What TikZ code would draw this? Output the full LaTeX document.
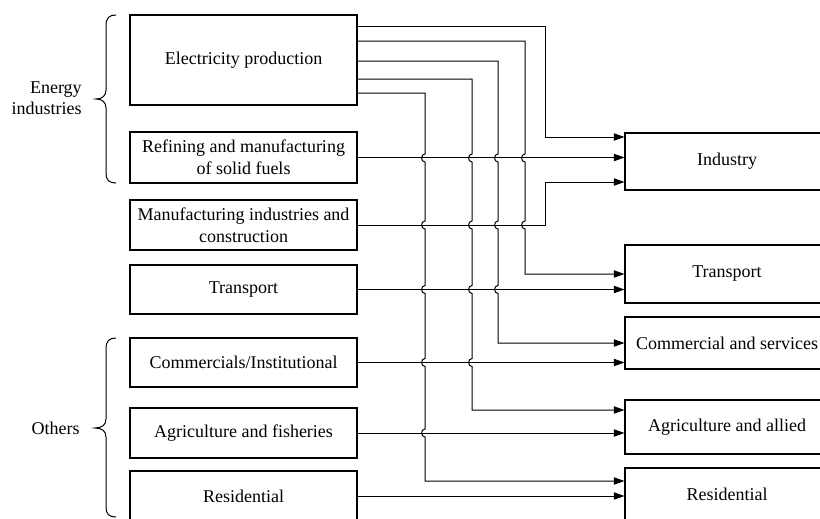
\documentclass[tikz,border=0pt]{standalone}
\usepackage{fontspec}
\setmainfont{Liberation Serif}
\usetikzlibrary{arrows.meta}
\newcommand\hp[2]{-- (#1,#2-4) .. controls (#1-4.5,#2-4) and (#1-4.5,#2+4) .. (#1,#2+4)}
\begin{document}
\begin{tikzpicture}[x=0.75pt,y=-0.75pt,
  box/.style={draw=black,line width=0.8pt,inner sep=0pt,align=center,font=\fontsize{13.5}{16.2}\selectfont},
  lbox/.style={box,minimum width=170.25pt},
  rbox/.style={box,minimum width=153pt},
  arr/.style={draw=black,line width=0.75pt,-{Triangle[length=8pt,width=5.5pt]}},
  brc/.style={draw=black,line width=0.75pt},
  lbl/.style={align=right,font=\fontsize{13.5}{15.5}\selectfont,inner sep=0pt}]
\useasboundingbox (0,0) rectangle (820,518);
\clip (0,0) rectangle (820,518);
% left boxes
\node[lbox,minimum height=67.5pt] (elec) at (243.5,60) {Electricity production};
\node[lbox,minimum height=38.25pt] (refin) at (243.5,157.5) {Refining and manufacturing\\of solid fuels};
\node[lbox,minimum height=37.5pt] (manuf) at (243.5,225) {Manufacturing industries and\\construction};
\node[lbox,minimum height=36.75pt] (transL) at (243.5,289.5) {Transport};
\node[lbox,minimum height=36.75pt] (comm) at (243.5,362.5) {Commercials/Institutional};
\node[lbox,minimum height=37.5pt] (agri) at (243.5,433) {Agriculture and fisheries};
\node[lbox,minimum height=37.5pt] (resL) at (243.5,496) {Residential};
% right boxes
\node[rbox,minimum height=42.75pt] (ind) at (727,161.5) {Industry};
\node[rbox,minimum height=43.5pt] (transR) at (727,274) {Transport};
\node[rbox,minimum height=39pt] (commR) at (727,343) {Commercial and services};
\node[rbox,minimum height=40.5pt] (agriR) at (727,427) {Agriculture and allied};
\node[rbox,minimum height=39pt] (resR) at (727,494) {Residential};
% group labels
\node[lbl,anchor=east] (energy) at (82,98) {Energy\\industries};
\node[lbl,anchor=east] (others) at (80,428) {Others};
% braces
\draw[brc] (116,15) .. controls (109,15) and (106,18) .. (106,26) -- (106,90)
  .. controls (106,96) and (102,99) .. (96,99) .. controls (102,99) and (106,102) .. (106,108)
  -- (106,173) .. controls (106,180) and (109,183) .. (116,183);
\draw[brc] (116,338) .. controls (109,338) and (106,341) .. (106,349) -- (106,419)
  .. controls (106,425) and (102,428) .. (95,428) .. controls (102,428) and (106,431) .. (106,437)
  -- (106,507) .. controls (106,514) and (109,517) .. (116,517);
% straight connectors
\draw[arr] (refin.east) -- (ind.west |- refin.east);
\draw[arr] (transL.east) -- (transR.west |- transL.east);
\draw[arr] (comm.east) -- (commR.west |- comm.east);
\draw[arr] (agri.east) -- (agriR.west |- agri.east);
\draw[arr] (resL.east) -- (resR.west |- resL.east);
% manufacturing to industry
\draw[arr] (manuf.east) -- (545,225) |- (ind.west |- 0,182);
% electricity connectors
\draw[arr] (elec.east |- 0,26) -- (545,26) -- (545,137) -- (ind.west |- 0,137);
\draw[arr] (elec.east |- 0,41) -- (525,41) \hp{525}{158} \hp{525}{225} -- (525,274) -- (transR.west |- 0,274);
\draw[arr] (elec.east |- 0,61) -- (498,61) \hp{498}{158} \hp{498}{225} \hp{498}{289.5} -- (498,343) -- (commR.west |- 0,343);
\draw[arr] (elec.east |- 0,79) -- (472,79) \hp{472}{158} \hp{472}{225} \hp{472}{289.5} \hp{472}{362.5} -- (472,410) -- (agriR.west |- 0,410);
\draw[arr] (elec.east |- 0,93) -- (425,93) \hp{425}{158} \hp{425}{225} \hp{425}{289.5} \hp{425}{362.5} \hp{425}{433} -- (425,481) -- (resR.west |- 0,481);
\end{tikzpicture}
\end{document}
